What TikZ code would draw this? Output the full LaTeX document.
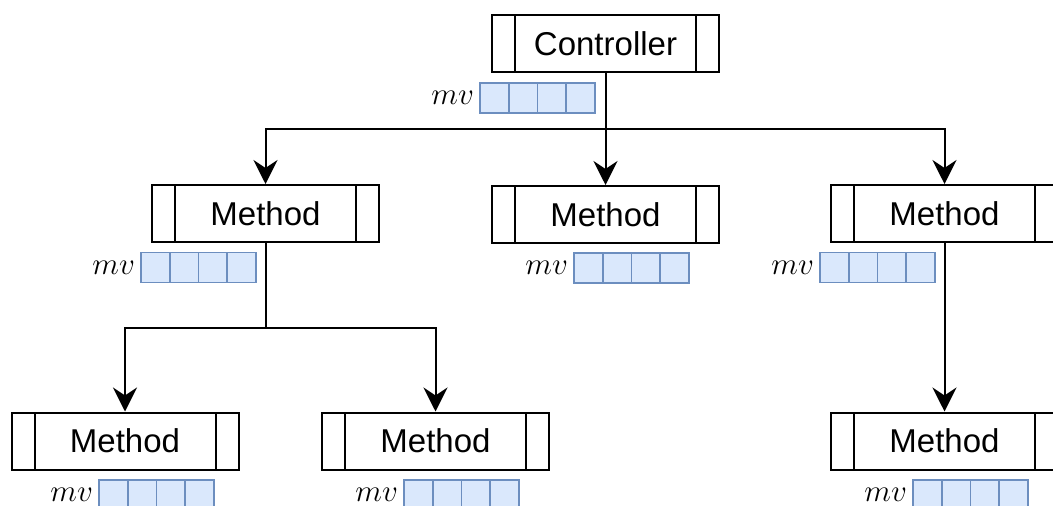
\documentclass[tikz,border=0pt]{standalone}
\usepackage{graphicx}
\usepackage{fontspec}
\setmainfont{Liberation Sans}
\usetikzlibrary{arrows.meta,calc}
\definecolor{cellfill}{HTML}{DAE8FC}
\definecolor{celldraw}{HTML}{6C8EBF}
\newcommand{\mvtext}{\scalebox{1.25}{$mv$}}
\tikzset{
  proc/.style={draw, line width=2pt, minimum width=227pt, minimum height=57pt,
    inner sep=0pt, font=\fontsize{33}{36}\selectfont,
    path picture={
      \draw[line width=2pt] ([xshift=23pt]path picture bounding box.north west) -- ([xshift=23pt]path picture bounding box.south west);
      \draw[line width=2pt] ([xshift=-23pt]path picture bounding box.north east) -- ([xshift=-23pt]path picture bounding box.south east);
    }},
  vec/.style={draw=celldraw, fill=cellfill, line width=1.8pt, minimum width=115pt,
    minimum height=30pt, inner sep=0pt,
    path picture={
      \foreach \i in {1,2,3}
        \draw[celldraw, line width=1.8pt]
          ($(path picture bounding box.north west)!\i/4!(path picture bounding box.north east)$) --
          ($(path picture bounding box.south west)!\i/4!(path picture bounding box.south east)$);
    }},
  mvlab/.style={anchor=east, inner sep=0pt, font=\fontsize{24.88}{30}\selectfont},
  conn/.style={line width=2pt},
  arr/.style={line width=2pt, -{Stealth[length=24pt, width=24pt, inset=8pt]}},
}
\begin{document}
\begin{tikzpicture}[x=1pt, y=-1pt]
\useasboundingbox (0,0) rectangle (1053,506);
\fill[white] (0,0) rectangle (1053,506);
\clip (0,0) rectangle (1053,506);

\node[proc] (C)  at (605.5,43.5)  {Controller};
\node[proc] (M1) at (265.5,213.5) {Method};
\node[proc] (M2) at (605.5,214.5) {Method};
\node[proc] (M3) at (944.5,213.5) {Method};
\node[proc] (M4) at (125,441)     {Method};
\node[proc] (M5) at (435.5,441)   {Method};
\node[proc] (M6) at (944.5,441)   {Method};

\node[vec] (VC) at (537.5,98)  {};
\node[vec] (V1) at (198.5,267.5) {};
\node[vec] (V2) at (631.5,268) {};
\node[vec] (V3) at (877.5,267.5) {};
\node[vec] (V4) at (156.5,495) {};
\node[vec] (V5) at (461.5,495) {};
\node[vec] (V6) at (970.5,495) {};

\foreach \v in {VC,V1,V2,V3,V4,V5,V6}
  \node[mvlab] (L\v) at ([xshift=-5pt]\v.west) {\mvtext};

\coordinate (j1) at ($(C.south)+(0,56)$);
\coordinate (j2) at ($(M1.south)+(0,85)$);
\draw[conn] (C.south) -- (j1);
\draw[arr] (j1) -| (M1.north);
\draw[arr] (j1) -| (M3.north);
\draw[arr] (j1) -- (M2.north);
\draw[conn] (M1.south) -- (j2);
\draw[arr] (j2) -| (M4.north);
\draw[arr] (j2) -| (M5.north);
\draw[arr] (M3.south) -- (M6.north);
\end{tikzpicture}
\end{document}
